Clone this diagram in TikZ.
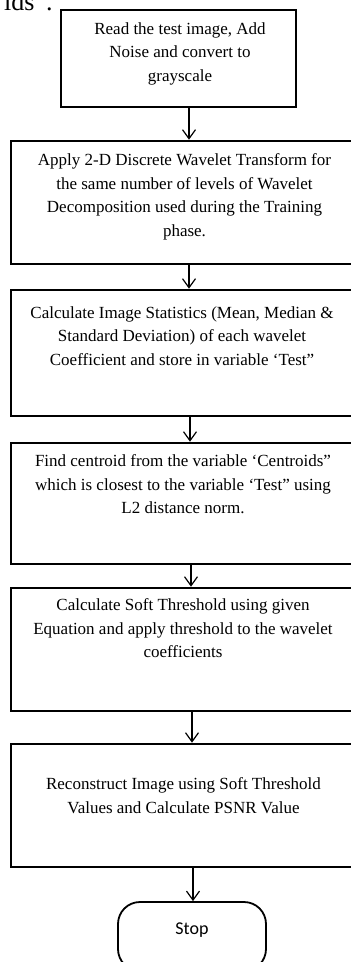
\documentclass[tikz,border=0pt]{standalone}
\usepackage{fontspec}
\setmainfont{Liberation Serif}
\newfontfamily\stopfont{Carlito}
\usetikzlibrary{arrows.meta}

\begin{document}
\begin{tikzpicture}[x=1pt,y=-1pt,
  stepbox/.style={draw, line width=2.6pt, inner sep=0pt},
  steptext/.style={anchor=north, align=center, inner sep=0pt,
    font=\fontsize{17}{23.5}\selectfont},
  arr/.style={line width=1.2pt,
    -{Straight Barb[length=9pt,width=13pt,line width=1.2pt]}},
]
\useasboundingbox (0,0) rectangle (351,962);
\fill[white] (0,0) rectangle (351,962);

% tail of the sentence above the chart
\node[anchor=base west, inner sep=0pt, font=\fontsize{26}{30}\selectfont]
  (frag) at (4,10) {ids”.};

% process boxes
\node[stepbox, minimum width=235pt, minimum height=97pt]  (b1) at (178.5,58.5) {};
\node[stepbox, minimum width=345pt, minimum height=123pt] (b2) at (183.5,202.5) {};
\node[stepbox, minimum width=345pt, minimum height=126pt] (b3) at (183.5,353) {};
\node[stepbox, minimum width=345pt, minimum height=121pt] (b4) at (183.5,503.5) {};
\node[stepbox, minimum width=345pt, minimum height=123pt] (b5) at (183.5,649.5) {};
\node[stepbox, minimum width=345pt, minimum height=123pt] (b6) at (183.5,805.5) {};

% box texts, set from the top of each box
\node[steptext] (t1) at (180,22.4) {Read the test image, Add\\Noise and convert to\\grayscale};
\node[steptext] (t2) at (184.5,153.4) {Apply 2-D Discrete Wavelet Transform for\\the same number of levels of Wavelet\\Decomposition used during the Training\\phase.};
\node[steptext] (t3) at (182,306.4) {Calculate Image Statistics (Mean, Median \&\\Standard Deviation) of each wavelet\\Coefficient and store in variable ‘Test”};
\node[steptext] (t4) at (183,454.4) {Find centroid from the variable ‘Centroids”\\which is closest to the variable ‘Test” using\\L2 distance norm.};
\node[steptext] (t5) at (183,598.4) {Calculate Soft Threshold using given\\Equation and apply threshold to the wavelet\\coefficients};
\node[steptext] (t6) at (183.5,777.4) {Reconstruct Image using Soft Threshold\\Values and Calculate PSNR Value};

% terminal
\node[draw, line width=1.8pt, rounded corners=22pt, minimum width=148pt,
  minimum height=69pt, inner sep=0pt, text height=11pt, text depth=16pt,
  font=\stopfont\fontsize{18}{20}\selectfont] (stop) at (192,936.5) {Stop};

% flow arrows
\draw[arr] ([xshift=10.5pt]b1.south) -- ([xshift=10.5pt]b1.south |- b2.north);
\draw[arr] ([xshift=5.5pt]b2.south) -- ([xshift=5.5pt]b2.south |- b3.north);
\draw[arr] ([xshift=6.5pt]b3.south) -- ([xshift=6.5pt]b3.south |- b4.north);
\draw[arr] ([xshift=7.5pt]b4.south) -- ([xshift=7.5pt]b4.south |- b5.north);
\draw[arr] ([xshift=8.5pt]b5.south) -- ([xshift=8.5pt]b5.south |- b6.north);
\draw[arr] ([xshift=9.5pt]b6.south) -- ([xshift=9.5pt]b6.south |- stop.north);
\end{tikzpicture}
\end{document}
